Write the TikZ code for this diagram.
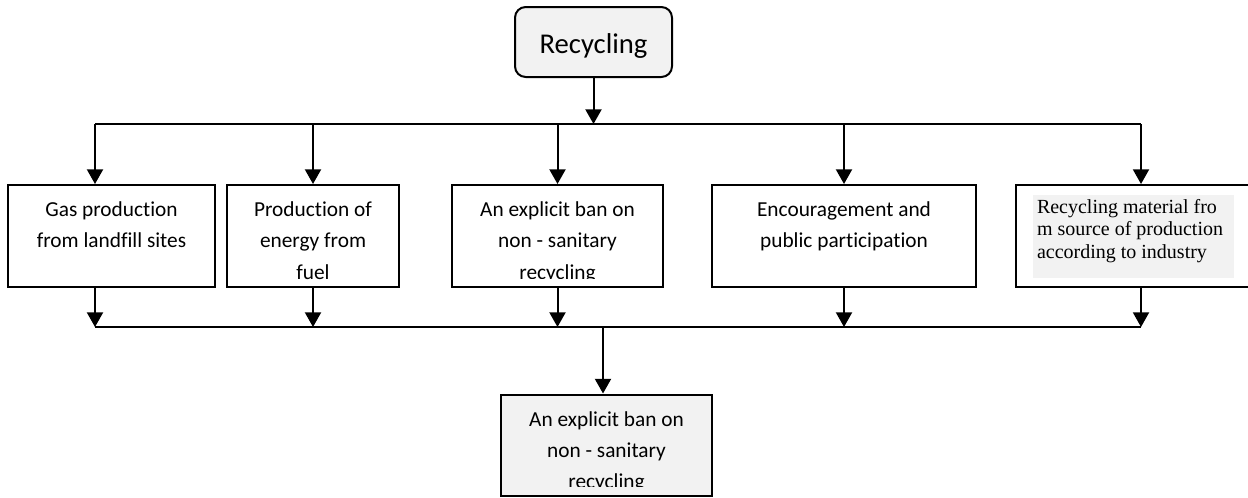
\documentclass[tikz,border=0pt]{standalone}
\usepackage{fontspec}
\setmainfont[Ligatures=NoCommon]{Carlito}
\newfontfamily\serifb{Liberation Serif}
\usetikzlibrary{arrows.meta}
\definecolor{boxgray}{HTML}{F2F2F2}
\newcommand\bxtxt[3]{\parbox[c][#2][t]{#1}{\centering\fontsize{16}{23.4}\selectfont\rule{0pt}{23.8pt}#3}}
\begin{document}
\begin{tikzpicture}[x=0.75pt,y=-0.75pt,
  box/.style={draw, line width=1.5pt, inner sep=0pt},
  arr/.style={line width=1.5pt, -{Triangle[length=11pt,width=12pt]}},
  bus/.style={line width=1.5pt}]
\useasboundingbox (0,0) rectangle (1248,497);
% top
\node[box, rounded corners=8pt, fill=boxgray, minimum width=117.75pt, minimum height=52.5pt,
  text height=16.5pt, text depth=0pt, font=\fontsize{21.5}{26}\selectfont] (top) at (593.5,42) {Recycling};
% row of boxes
\node[box] (b1) at (111.5,236) {\bxtxt{155.25pt}{76.5pt}{Gas production\\from landfill sites}};
\node[box] (b2) at (313,236) {\bxtxt{129pt}{76.5pt}{Production of\\energy from\\fuel}};
\node[box] (b3) at (557.5,236) {\bxtxt{158.25pt}{76.5pt}{An explicit ban on\\non - sanitary\\recycling}};
\fill[white] (453.5,278.5) rectangle (661.5,285.6);
\node[box] (b4) at (844,236) {\bxtxt{198pt}{76.5pt}{Encouragement and\\public participation}};
\fill[boxgray] (1033,195) rectangle (1234,278);
\node[box] (b5) at (1137,236) {\parbox[c][76.5pt][t]{181.5pt}{\raggedright\leftskip=15.75pt\serifb\fontsize{15}{16.9}\selectfont\rule{0pt}{21pt}Recycling material fro\\m source of production\\according to industry}};
% bottom box
\node[box, fill=boxgray] (bot) at (606.5,445) {\bxtxt{158.25pt}{75.75pt}{An explicit ban on\\non - sanitary\\recycling}};
\fill[boxgray] (502.5,486.5) rectangle (710.5,494);
% top bus
\coordinate (tl) at (95,124);
\coordinate (tr) at (1141,124);
\draw[bus] (tl) -- (tr);
\draw[arr] (top.south) -- (top.south |- tl);
\draw[arr] (tl) -- (tl |- b1.north);
\draw[arr] (b2.north |- tl) -- (b2.north);
\draw[arr] (b3.north |- tl) -- (b3.north);
\draw[arr] (b4.north |- tl) -- (b4.north);
\draw[arr] (tr) -- (tr |- b5.north);
% bottom bus
\coordinate (bl) at (95,327);
\coordinate (br) at (1141,327);
\coordinate (bm) at (603,327);
\draw[bus] (bl) -- (br);
\draw[arr] (bl |- b1.south) -- (bl);
\draw[arr] (b2.south) -- (b2.south |- bl);
\draw[arr] (b3.south) -- (b3.south |- bl);
\draw[arr] (b4.south) -- (b4.south |- bl);
\draw[arr] (br |- b5.south) -- (br);
\draw[arr] (bm) -- (bm |- bot.north);
\end{tikzpicture}
\end{document}
